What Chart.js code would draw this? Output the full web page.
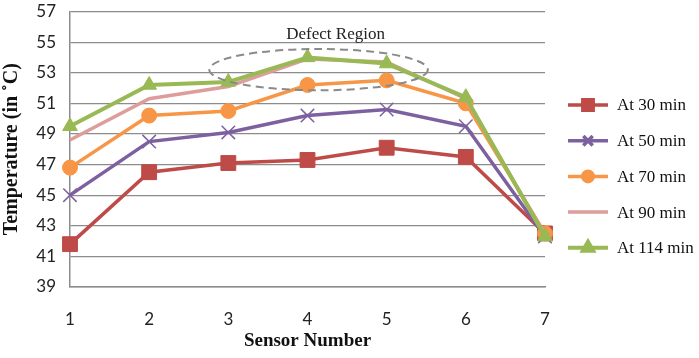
<!DOCTYPE html>
<html>
<head>
<meta charset="utf-8">
<script src="https://cdn.jsdelivr.net/npm/chart.js@4.4.1/dist/chart.umd.min.js"></script>
<style>
  html, body { margin: 0; padding: 0; background: #fff; }
  #wrap { width: 699px; height: 358px; position: relative; }
</style>
</head>
<body>
<div id="wrap"><canvas id="chart"></canvas></div>
<script>
// sensor positions along the x axis
const sensors = ['1', '2', '3', '4', '5', '6', '7'];

// temperatures
const at30 = [41.8, 46.5, 47.1, 47.3, 48.1, 47.5, 42.5];
const at50 = [45.0, 48.5, 49.1, 50.2, 50.6, 49.5, 42.3];
const at70 = [46.8, 50.2, 50.5, 52.2, 52.5, 51.0, 42.5];
const at90 = [48.6, 51.3, 52.1, 53.9, 53.7, 51.3, 42.4];
const at114 = [49.5, 52.2, 52.4, 54.0, 53.6, 51.4, 42.3];

const seriesNames = ['At 30 min', 'At 50 min', 'At 70 min', 'At 90 min', 'At 114 min'];

const yTicks = [39, 41, 43, 45, 47, 49, 51, 53, 55, 57];

// the dashed ellipse marking the defect region (in data units)
const defectLabel = 'Defect Region';
const defectCenter = { x: 4.14, y: 53.2 };
const defectRadius = { x: 1.38, y: 1.35 };

const red = '#BE4B48';
const purple = '#7D60A0';
const orange = '#F79646';
const pink = '#DC9D9B';
const green = '#98B954';

// draws the dashed ellipse and its caption
const defectPlugin = {
    id: 'defect',
    afterDatasetsDraw(chart) {
        const { ctx, scales } = chart;
        const cx = scales.x.getPixelForValue(defectCenter.x - 1);
        const cy = scales.y.getPixelForValue(defectCenter.y);
        const rx = scales.x.getPixelForValue(defectRadius.x) - scales.x.getPixelForValue(0);
        const ry = scales.y.getPixelForValue(0) - scales.y.getPixelForValue(defectRadius.y);
        ctx.save();
        ctx.strokeStyle = '#8a8a8a';
        ctx.lineWidth = 2;
        ctx.setLineDash([8, 5]);
        ctx.beginPath();
        ctx.ellipse(cx, cy, rx, ry, 0, 0, Math.PI * 2);
        ctx.stroke();
        ctx.setLineDash([]);
        ctx.fillStyle = '#222';
        ctx.font = '17px "Liberation Serif", "Times New Roman", serif';
        ctx.textAlign = 'center';
        ctx.textBaseline = 'middle';
        ctx.fillText(defectLabel, cx + 17, cy - 35);
        ctx.restore();
    }
};

// Excel-style legend: a short line with the marker in the middle
const sideLegend = {
    id: 'sideLegend',
    afterDraw(chart) {
        const { ctx, chartArea } = chart;
        const x0 = chartArea.right + 23;
        const lineLen = 40;
        let y = 105;
        ctx.save();
        chart.data.datasets.forEach(ds => {
            ctx.strokeStyle = ds.borderColor;
            ctx.lineWidth = ds.borderWidth;
            ctx.beginPath();
            ctx.moveTo(x0, y);
            ctx.lineTo(x0 + lineLen, y);
            ctx.stroke();
            if (ds.pointRadius > 0) {
                ctx.fillStyle = ds.pointBackgroundColor;
                ctx.strokeStyle = ds.pointBorderColor;
                Chart.helpers.drawPoint(ctx, {
                    pointStyle: ds.pointStyle,
                    radius: ds.pointRadius * 0.7,
                    rotation: 0,
                    borderWidth: ds.pointBorderWidth
                }, x0 + lineLen / 2, y);
            }
            ctx.fillStyle = '#111';
            ctx.font = '17px "Liberation Serif", "Times New Roman", serif';
            ctx.textAlign = 'left';
            ctx.textBaseline = 'middle';
            ctx.fillText(ds.label, x0 + lineLen + 9, y + 1);
            y += 35.7;
        });
        ctx.restore();
    }
};

function series(label, data, color, style, radius, width, order) {
    return {
        label: label,
        data: data,
        borderColor: color,
        backgroundColor: color,
        borderWidth: width,
        pointStyle: style,
        pointRadius: radius,
        pointHoverRadius: radius,
        pointBackgroundColor: color,
        pointBorderColor: color,
        pointBorderWidth: style === 'crossRot' ? 1.5 : 1,
        tension: 0,
        order: order
    };
}

new Chart(document.getElementById('chart'), {
    type: 'line',
    data: {
        labels: sensors,
        datasets: [
            series(seriesNames[0], at30, red, 'rect', 10.5, 3.5, 5),
            series(seriesNames[1], at50, purple, 'crossRot', 9.5, 3.5, 4),
            series(seriesNames[2], at70, orange, 'circle', 7.5, 3.5, 3),
            series(seriesNames[3], at90, pink, 'circle', 0, 3.5, 2),
            series(seriesNames[4], at114, green, 'triangle', 8.5, 4, 1)
        ]
    },
    options: {
        responsive: true,
        maintainAspectRatio: false,
        animation: false,
        layout: { padding: { top: 10, right: 154, left: 0, bottom: 0 } },
        plugins: {
            legend: { display: false },
            tooltip: { enabled: false }
        },
        scales: {
            x: {
                offset: false,
                grid: { display: false, drawTicks: false },
                border: { display: true, color: '#8c8c8c', width: 1.5 },
                ticks: {
                    color: '#222',
                    padding: 22,
                    maxRotation: 0,
                    font: { family: 'Lato, "Open Sans", sans-serif', size: 17 }
                },
                title: {
                    display: true,
                    text: 'Sensor Number',
                    color: '#111',
                    padding: { top: 0, bottom: 6 },
                    font: { family: '"Liberation Serif", "Times New Roman", serif', size: 19, weight: 'bold' }
                },
                afterFit(scale) {
                    scale.height = 71;
                    scale.paddingLeft = 0;
                    scale.paddingRight = 0;
                }
            },
            y: {
                min: 39,
                max: 57,
                afterBuildTicks(scale) { scale.ticks = yTicks.map(v => ({ value: v })); },
                grid: { color: '#8c8c8c', lineWidth: 1.2, drawTicks: false },
                border: { display: true, color: '#8c8c8c', width: 1.5 },
                ticks: {
                    color: '#222',
                    padding: 14,
                    font: { family: 'Lato, "Open Sans", sans-serif', size: 17 }
                },
                title: {
                    display: true,
                    text: 'Temperature (in \u02DAC)',
                    color: '#111',
                    padding: { top: 0, bottom: 0 },
                    font: { family: '"Liberation Serif", "Times New Roman", serif', size: 20, weight: 'bold' }
                },
                afterFit(scale) {
                    scale.width = 70;
                    scale.paddingTop = 0;
                    scale.paddingBottom = 0;
                }
            }
        }
    },
    plugins: [defectPlugin, sideLegend]
});
</script>
</body>
</html>
